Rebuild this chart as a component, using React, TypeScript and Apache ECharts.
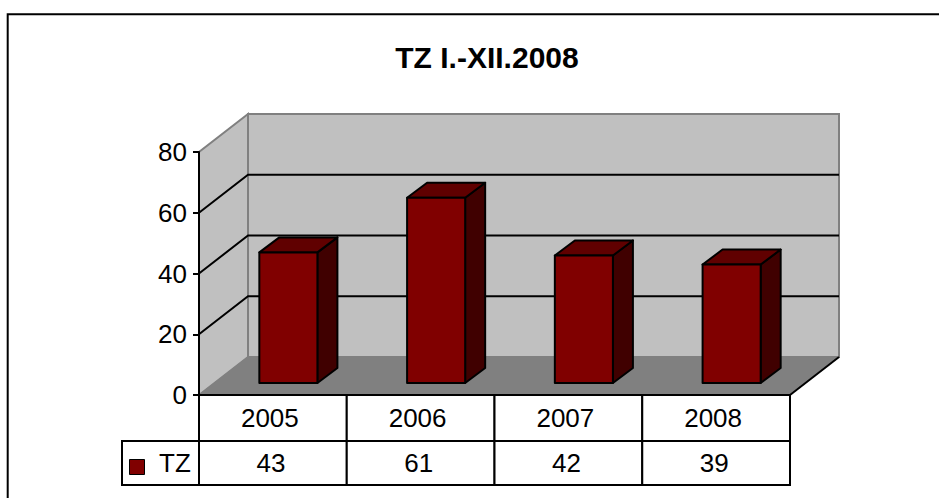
import React, { useEffect, useRef } from "react";
import * as echarts from "echarts";

const title = "TZ I.-XII.2008";
const categories = ["2005", "2006", "2007", "2008"];
const seriesName = "TZ";
const values = [43, 61, 42, 39];
const yTicks = [0, 20, 40, 60, 80];

const FONT = "'Liberation Sans', Arial, sans-serif";
const FS = 26;
const DEPTH_X = 49;
const DEPTH_Y = -38;
const BAR_FX = 15.5;
const BAR_FY = -12;
const BAR_DX = 20;
const BAR_DY = -15;
const BAR_FRAC = 0.393;

export default function App() {
  const ref = useRef<HTMLDivElement>(null);
  useEffect(() => {
    if (!ref.current) return;
    const chart = echarts.init(ref.current, undefined, { renderer: "svg" });

    const wallsRender = (params: any, api: any) => {
      const cs = params.coordSys;
      const x0 = cs.x;
      const x1 = cs.x + cs.width;
      const yBottom = api.coord([0, yTicks[0]])[1];
      const yTop = api.coord([0, yTicks[yTicks.length - 1]])[1];
      const children: any[] = [];
      children.push({
        type: "polygon",
        shape: {
          points: [
            [x0 + DEPTH_X, yTop + DEPTH_Y],
            [x1 + DEPTH_X, yTop + DEPTH_Y],
            [x1 + DEPTH_X, yBottom + DEPTH_Y],
            [x0 + DEPTH_X, yBottom + DEPTH_Y],
          ],
        },
        style: { fill: "#C0C0C0", stroke: "#808080", lineWidth: 2 },
      });
      children.push({
        type: "polygon",
        shape: {
          points: [
            [x0, yBottom],
            [x0, yTop],
            [x0 + DEPTH_X, yTop + DEPTH_Y],
            [x0 + DEPTH_X, yBottom + DEPTH_Y],
          ],
        },
        style: { fill: "#C0C0C0", stroke: "#808080", lineWidth: 2 },
      });
      children.push({
        type: "polygon",
        shape: {
          points: [
            [x0, yBottom],
            [x1, yBottom],
            [x1 + DEPTH_X, yBottom + DEPTH_Y],
            [x0 + DEPTH_X, yBottom + DEPTH_Y],
          ],
        },
        style: { fill: "#808080", stroke: "#808080", lineWidth: 1 },
      });
      yTicks.slice(1, -1).forEach((t) => {
        const y = api.coord([0, t])[1];
        children.push({
          type: "polyline",
          shape: {
            points: [
              [x0, y],
              [x0 + DEPTH_X, y + DEPTH_Y],
              [x1 + DEPTH_X, y + DEPTH_Y],
            ],
          },
          style: { fill: null, stroke: "#000", lineWidth: 2 },
        });
      });
      children.push({
        type: "line",
        shape: { x1: x1, y1: yBottom, x2: x1 + DEPTH_X, y2: yBottom + DEPTH_Y },
        style: { stroke: "#000", lineWidth: 2 },
      });
      return { type: "group", children };
    };

    const barRender = (params: any, api: any) => {
      const idx = api.value(0);
      const v = api.value(1);
      const c = api.coord([idx, 0]);
      const t = api.coord([idx, v]);
      const band = api.size([1, 0])[0];
      const w = band * BAR_FRAC;
      const xl = c[0] - w / 2 + BAR_FX;
      const xr = xl + w;
      const yb = c[1] + BAR_FY;
      const yt = t[1] + BAR_FY;
      const stroke = { stroke: "#000", lineWidth: 2, lineJoin: "round" };
      return {
        type: "group",
        children: [
          {
            type: "polygon",
            shape: {
              points: [
                [xr, yb],
                [xr, yt],
                [xr + BAR_DX, yt + BAR_DY],
                [xr + BAR_DX, yb + BAR_DY],
              ],
            },
            style: { fill: "#400000", ...stroke },
          },
          {
            type: "polygon",
            shape: {
              points: [
                [xl, yt],
                [xr, yt],
                [xr + BAR_DX, yt + BAR_DY],
                [xl + BAR_DX, yt + BAR_DY],
              ],
            },
            style: { fill: "#600000", ...stroke },
          },
          {
            type: "rect",
            shape: { x: xl, y: yt, width: w, height: yb - yt },
            style: { fill: "#800000", ...stroke },
          },
        ],
      };
    };

    const ROW1 = 46;
    const ROW2 = 44;
    const LEG_W = 77;
    const tableRender = (params: any, api: any) => {
      const idx = api.value(0);
      const v = api.value(1);
      const c = api.coord([idx, 0]);
      const band = api.size([1, 0])[0];
      const xl = c[0] - band / 2;
      const y0 = c[1];
      const cellStyle = { fill: "#fff", stroke: "#000", lineWidth: 2 };
      const textStyle = (txt: string, x: number, y: number, align = "center") => ({
        type: "text",
        x,
        y,
        style: {
          text: txt,
          fill: "#000",
          font: `${FS}px ${FONT}`,
          align,
          verticalAlign: "middle",
        },
      });
      const children: any[] = [
        { type: "rect", shape: { x: xl, y: y0, width: band, height: ROW1 }, style: cellStyle },
        { type: "rect", shape: { x: xl, y: y0 + ROW1, width: band, height: ROW2 }, style: cellStyle },
        textStyle(categories[idx], c[0] - 3, y0 + ROW1 / 2),
        textStyle(String(v), c[0] - 2, y0 + ROW1 + ROW2 / 2),
      ];
      if (idx === 0) {
        children.push(
          { type: "rect", shape: { x: xl - LEG_W, y: y0 + ROW1, width: LEG_W, height: ROW2 }, style: cellStyle },
          {
            type: "rect",
            shape: { x: xl - LEG_W + 7.5, y: y0 + ROW1 + 18.5, width: 15, height: 15 },
            style: { fill: "#800000", stroke: "#000", lineWidth: 1 },
          },
          textStyle(seriesName, xl - LEG_W + 37, y0 + ROW1 + ROW2 / 2, "left")
        );
      }
      return { type: "group", children };
    };

    chart.setOption({
      animation: false,
      backgroundColor: "#fff",
      title: {
        text: title,
        left: 482,
        top: 52,
        textAlign: "center",
        textVerticalAlign: "middle",
        textStyle: { fontFamily: FONT, fontSize: 30, fontWeight: "bold", color: "#000" },
      },
      graphic: [
        {
          type: "rect",
          shape: { x: 7.7, y: 14.3, width: 1000, height: 600 },
          style: { fill: null, stroke: "#000", lineWidth: 2 },
          z: 100,
          silent: true,
        },
      ],
      grid: { left: 199, right: 149, top: 152, bottom: 103, containLabel: false },
      xAxis: {
        type: "category",
        data: categories,
        boundaryGap: true,
        axisLine: { show: false },
        axisTick: { show: false },
        axisLabel: { show: false },
        splitLine: { show: false },
      },
      yAxis: {
        type: "value",
        min: 0,
        max: 80,
        interval: 20,
        axisLine: { show: true, lineStyle: { color: "#000", width: 2 } },
        axisTick: { show: true, inside: false, length: 6, lineStyle: { color: "#000", width: 2 } },
        axisLabel: { margin: 12, color: "#000", fontFamily: FONT, fontSize: FS },
        splitLine: { show: false },
        z: 10,
      },
      series: [
        {
          type: "custom",
          name: "walls",
          renderItem: wallsRender,
          data: [[0, 0]],
          encode: { x: 0, y: 1 },
          clip: false,
          silent: true,
          z: 1,
        },
        {
          type: "custom",
          name: seriesName,
          renderItem: barRender,
          data: values.map((v, i) => [i, v]),
          encode: { x: 0, y: 1 },
          clip: false,
          z: 3,
        },
        {
          type: "custom",
          name: "table",
          renderItem: tableRender,
          data: values.map((v, i) => [i, v]),
          encode: { x: 0, y: 1 },
          clip: false,
          silent: true,
          z: 5,
        },
      ],
    });
    return () => chart.dispose();
  }, []);
  return (
    <div
      ref={ref}
      style={{ position: "fixed", left: 0, top: 0, width: 939, height: 498 }}
    />
  );
}
